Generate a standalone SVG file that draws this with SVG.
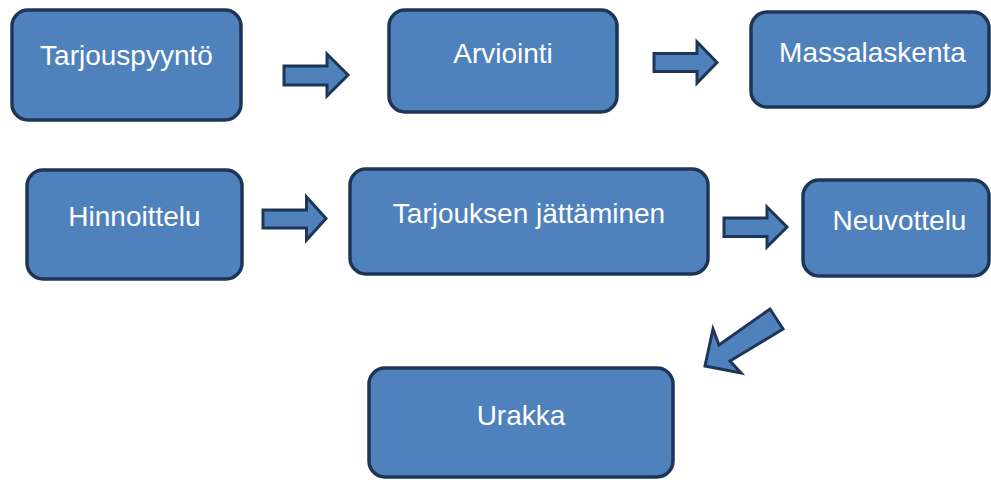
<svg xmlns="http://www.w3.org/2000/svg" width="991" height="480" viewBox="0 0 991 480">
<style>
.box{fill:#4f81bd;stroke:#1e3656;stroke-width:3.5}
.lbl{font-family:"Liberation Sans",Arial,sans-serif;font-size:28px;fill:#ffffff;text-anchor:middle}
.arr{fill:#4f81bd;stroke:#1e3656;stroke-width:3;stroke-linejoin:miter}
</style>
<rect x="0" y="0" width="991" height="480" fill="#ffffff"/>
<g id="n1"><rect class="box" x="12" y="10" width="229" height="110" rx="16"/><text class="lbl" x="126.5" y="65">Tarjouspyyntö</text></g>
<g id="n2"><rect class="box" x="389" y="10" width="228" height="102" rx="16"/><text class="lbl" x="503" y="63">Arviointi</text></g>
<g id="n3"><rect class="box" x="751" y="12" width="238" height="95" rx="16"/><text class="lbl" x="872.5" y="62">Massalaskenta</text></g>
<g id="n4"><rect class="box" x="27" y="170" width="215" height="109" rx="16"/><text class="lbl" x="134.5" y="226">Hinnoittelu</text></g>
<g id="n5"><rect class="box" x="350" y="169" width="358" height="105" rx="16"/><text class="lbl" x="529" y="223">Tarjouksen jättäminen</text></g>
<g id="n6"><rect class="box" x="803" y="180" width="186" height="96" rx="16"/><text class="lbl" x="899.5" y="230">Neuvottelu</text></g>
<g id="n7"><rect class="box" x="369" y="368" width="304" height="109" rx="16"/><text class="lbl" x="521" y="425">Urakka</text></g>
<g id="connectors">
<polygon class="arr" points="284,66 327,66 327,54 348,75 327,96 327,85 284,85"/>
<polygon class="arr" points="654,53.5 697,53.5 697,42 717,62.5 697,83 697,71.5 654,71.5"/>
<polygon class="arr" points="263,210 306.5,210 306.5,197 326,218.5 306.5,240 306.5,228 263,228"/>
<polygon class="arr" points="724,218 767,218 767,207 787,227 767,247 767,236.5 724,236.5"/>
<polygon class="arr" points="770,309 783,329 730,361 741,373 705,366 713,329 719,345"/>
</g>
</svg>
